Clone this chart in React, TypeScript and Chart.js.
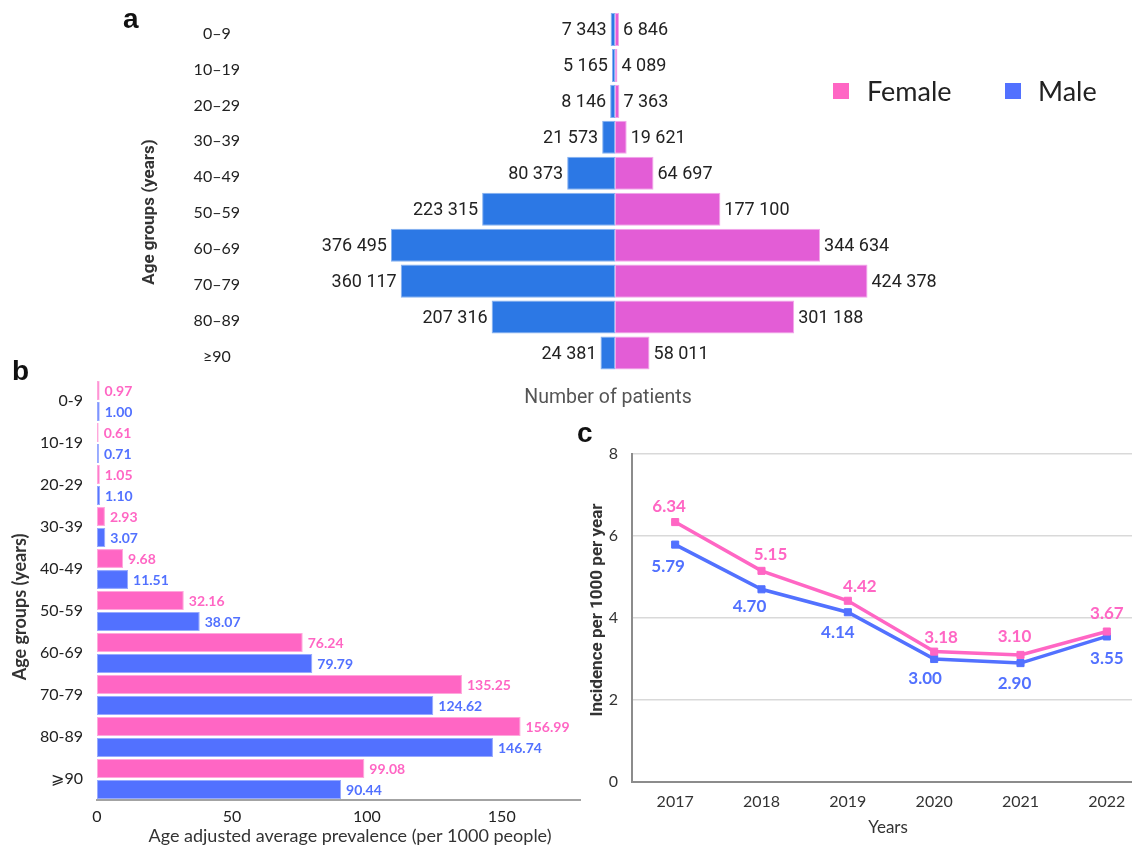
import React, { useEffect, useRef } from 'react';
import { Chart, registerables } from 'chart.js';

Chart.register(...registerables);

// ---------------- Data ----------------
// Panel a: number of patients by age group
const ageGroupsA = ['0–9', '10–19', '20–29', '30–39', '40–49', '50–59', '60–69', '70–79', '80–89', '≥90'];
const patientsMale = [7343, 5165, 8146, 21573, 80373, 223315, 376495, 360117, 207316, 24381];
const patientsFemale = [6846, 4089, 7363, 19621, 64697, 177100, 344634, 424378, 301188, 58011];

// Panel b: age adjusted average prevalence (per 1000 people)
const ageGroupsB = ['0-9', '10-19', '20-29', '30-39', '40-49', '50-59', '60-69', '70-79', '80-89', '⩾90'];
const prevalenceFemale = [0.97, 0.61, 1.05, 2.93, 9.68, 32.16, 76.24, 135.25, 156.99, 99.08];
const prevalenceMale = [1.0, 0.71, 1.1, 3.07, 11.51, 38.07, 79.79, 124.62, 146.74, 90.44];
const prevalenceTicks = [0, 50, 100, 150];

// Panel c: incidence per 1000 per year
const years = ['2017', '2018', '2019', '2020', '2021', '2022'];
const incidenceFemale = [6.34, 5.15, 4.42, 3.18, 3.1, 3.67];
const incidenceMale = [5.79, 4.7, 4.14, 3.0, 2.9, 3.55];

// ---------------- Styles ----------------
const PINK = '#FF66C4';
const BLUE = '#5271FF';
const A_PINK = '#E35DD6';
const A_BLUE = '#2C78E5';

// label nudges (style only) for panel c
const femaleLabelDx = [-6, 9, 12, 7, -6, 0];
const femaleLabelDy = [-16, -16, -14, -14, -18, -18];
const maleLabelDx = [-7, -12, -10, -9, -6, 0];
const maleLabelDy = [22, 17, 20, 20, 20, 22];

const fmtThousands = (v: number) => String(v).replace(/\B(?=(\d{3})+(?!\d))/g, ' ');

type TextItem = {
  text: string;
  x: number;
  y: number;
  font: string;
  color: string;
  align?: CanvasTextAlign;
  baseline?: CanvasTextBaseline;
  rotate?: number;
};
type RectItem = { x: number; y: number; w: number; h: number; color: string };

function decorPlugin(texts: TextItem[], rects: RectItem[] = []) {
  return {
    id: 'decor',
    afterDraw(chart: any) {
      const ctx = chart.ctx;
      ctx.save();
      rects.forEach((r) => {
        ctx.fillStyle = r.color;
        ctx.fillRect(r.x, r.y, r.w, r.h);
      });
      texts.forEach((t) => {
        ctx.save();
        ctx.translate(t.x, t.y);
        if (t.rotate) ctx.rotate(t.rotate);
        ctx.font = t.font;
        ctx.fillStyle = t.color;
        ctx.textAlign = t.align || 'center';
        ctx.textBaseline = t.baseline || 'middle';
        ctx.fillText(t.text, 0, 0);
        ctx.restore();
      });
      ctx.restore();
    },
  };
}

function pyramidLabelPlugin() {
  return {
    id: 'pyrLabels',
    afterDatasetsDraw(chart: any) {
      const ctx = chart.ctx;
      ctx.save();
      ctx.font = '18px Roboto';
      ctx.fillStyle = '#222';
      ctx.textBaseline = 'middle';
      chart.data.datasets.forEach((ds: any, di: number) => {
        const meta = chart.getDatasetMeta(di);
        meta.data.forEach((el: any, i: number) => {
          const v = Math.abs(ds.data[i]);
          const isLeft = el.x < el.base;
          ctx.textAlign = isLeft ? 'right' : 'left';
          ctx.fillText(fmtThousands(v), isLeft ? el.x - 4 : el.x + 4, el.y + 1);
        });
      });
      ctx.restore();
    },
  };
}

function barValueLabelPlugin() {
  return {
    id: 'barValues',
    afterDatasetsDraw(chart: any) {
      const ctx = chart.ctx;
      ctx.save();
      ctx.font = 'bold 14px Lato';
      ctx.textBaseline = 'middle';
      ctx.textAlign = 'left';
      chart.data.datasets.forEach((ds: any, di: number) => {
        const meta = chart.getDatasetMeta(di);
        ctx.fillStyle = ds.backgroundColor;
        meta.data.forEach((el: any, i: number) => {
          ctx.fillText((ds.data[i] as number).toFixed(2), el.x + 5, el.y + 1);
        });
      });
      ctx.restore();
    },
  };
}

function lineValueLabelPlugin() {
  return {
    id: 'lineValues',
    afterDatasetsDraw(chart: any) {
      const ctx = chart.ctx;
      ctx.save();
      ctx.font = 'bold 17px Lato';
      ctx.textBaseline = 'middle';
      ctx.textAlign = 'center';
      chart.data.datasets.forEach((ds: any, di: number) => {
        const meta = chart.getDatasetMeta(di);
        ctx.fillStyle = ds.borderColor;
        const dx = di === 0 ? femaleLabelDx : maleLabelDx;
        const dy = di === 0 ? femaleLabelDy : maleLabelDy;
        meta.data.forEach((el: any, i: number) => {
          ctx.fillText((ds.data[i] as number).toFixed(2), el.x + dx[i], el.y + dy[i]);
        });
      });
      ctx.restore();
    },
  };
}

export default function App() {
  const aRef = useRef<HTMLCanvasElement | null>(null);
  const bRef = useRef<HTMLCanvasElement | null>(null);
  const cRef = useRef<HTMLCanvasElement | null>(null);

  useEffect(() => {
    const charts: Chart[] = [];

    // ---------- Panel a ----------
    if (aRef.current) {
      charts.push(
        new Chart(aRef.current, {
          type: 'bar',
          data: {
            labels: ageGroupsA,
            datasets: [
              {
                label: 'Male',
                data: patientsMale.map((v) => -v),
                backgroundColor: A_BLUE,
                borderColor: '#86B2F0',
                borderWidth: 1,
                borderSkipped: false,
                barPercentage: 0.92,
                categoryPercentage: 1,
              },
              {
                label: 'Female',
                data: patientsFemale,
                backgroundColor: A_PINK,
                borderColor: '#F2A6EA',
                borderWidth: 1,
                borderSkipped: false,
                barPercentage: 0.92,
                categoryPercentage: 1,
              },
            ],
          },
          options: {
            indexAxis: 'y',
            responsive: false,
            animation: false,
            devicePixelRatio: 1,
            layout: { padding: { top: 11.5, bottom: 39, left: 0, right: 160 } },
            plugins: { legend: { display: false }, tooltip: { enabled: false } },
            scales: {
              x: { stacked: true, display: false, min: -600000, max: 600000 },
              y: {
                stacked: true,
                grid: { display: false, drawTicks: true, tickLength: 18 },
                border: { display: false },
                ticks: {
                  padding: 0,
                  crossAlign: 'center',
                  labelOffset: 4,
                  font: { family: 'Lato', size: 16 },
                  color: '#222',
                },
                afterFit: (s: any) => {
                  s.width = 258;
                },
              },
            },
          } as any,
          plugins: [
            pyramidLabelPlugin(),
            decorPlugin(
              [
                { text: 'a', x: 123, y: 28, font: 'bold 28px "Liberation Sans"', color: '#111', align: 'left', baseline: 'alphabetic' },
                { text: 'Age groups (years)', x: 150, y: 212, font: 'bold 17px Roboto', color: '#333', rotate: -Math.PI / 2 },
                { text: 'Number of patients', x: 608, y: 398, font: '19.5px Roboto', color: '#555' },
                { text: 'Female', x: 867, y: 92, font: '27px Lato', color: '#222', align: 'left' },
                { text: 'Male', x: 1038, y: 92, font: '27px Lato', color: '#222', align: 'left' },
              ],
              [
                { x: 833, y: 83, w: 16, h: 16, color: PINK },
                { x: 1005, y: 83, w: 16, h: 16, color: BLUE },
              ]
            ),
          ],
        })
      );
    }

    // ---------- Panel b ----------
    if (bRef.current) {
      charts.push(
        new Chart(bRef.current, {
          type: 'bar',
          data: {
            labels: ageGroupsB,
            datasets: [
              {
                label: 'Female',
                data: prevalenceFemale,
                backgroundColor: PINK,
                borderColor: '#FFA8DC',
                borderWidth: 1,
                borderSkipped: false,
                barPercentage: 0.9,
                categoryPercentage: 1,
              },
              {
                label: 'Male',
                data: prevalenceMale,
                backgroundColor: BLUE,
                borderColor: '#98AAFF',
                borderWidth: 1,
                borderSkipped: false,
                barPercentage: 0.9,
                categoryPercentage: 1,
              },
            ],
          },
          options: {
            indexAxis: 'y',
            responsive: false,
            animation: false,
            devicePixelRatio: 1,
            layout: { padding: { top: 30, bottom: 0, left: 0, right: 10 } },
            plugins: { legend: { display: false }, tooltip: { enabled: false } },
            scales: {
              x: {
                min: 0,
                max: 179,
                grid: { display: false, drawTicks: false },
                border: { display: true, color: '#a3a3a3', width: 2 },
                ticks: {
                  stepSize: 50,
                  padding: 7,
                  font: { family: 'Lato', size: 16 },
                  color: '#222',
                  autoSkip: false,
                  maxRotation: 0,
                  callback: (v: any) => (prevalenceTicks.includes(Number(v)) ? String(v) : ''),
                },
                afterFit: (s: any) => {
                  s.height = 50;
                },
              },
              y: {
                grid: { display: false, drawTicks: true, tickLength: 14 },
                border: { display: false },
                ticks: { padding: 0, font: { family: 'Lato', size: 16 }, color: '#222' },
                afterFit: (s: any) => {
                  s.width = 97;
                },
              },
            },
          } as any,
          plugins: [
            barValueLabelPlugin(),
            decorPlugin([
              { text: 'b', x: 12, y: 30, font: 'bold 28px "Liberation Sans"', color: '#111', align: 'left', baseline: 'alphabetic' },
              { text: 'Age groups (years)', x: 20, y: 257, font: 'bold 18px Lato', color: '#333', rotate: -Math.PI / 2 },
              { text: 'Age adjusted average prevalence (per 1000 people)', x: 350, y: 486, font: '18px Lato', color: '#333' },
            ]),
          ],
        })
      );
    }

    // ---------- Panel c ----------
    if (cRef.current) {
      charts.push(
        new Chart(cRef.current, {
          type: 'line',
          data: {
            labels: years,
            datasets: [
              {
                label: 'Female',
                data: incidenceFemale,
                borderColor: PINK,
                backgroundColor: PINK,
                borderWidth: 3.5,
                pointStyle: 'rect',
                pointRadius: 5,
                pointBorderWidth: 1,
                pointBackgroundColor: PINK,
                pointBorderColor: PINK,
                tension: 0,
              },
              {
                label: 'Male',
                data: incidenceMale,
                borderColor: BLUE,
                backgroundColor: BLUE,
                borderWidth: 3.5,
                pointStyle: 'rect',
                pointRadius: 5,
                pointBorderWidth: 1,
                pointBackgroundColor: BLUE,
                pointBorderColor: BLUE,
                tension: 0,
              },
            ],
          },
          options: {
            responsive: false,
            animation: false,
            devicePixelRatio: 1,
            layout: { padding: { top: 39, bottom: 0, left: 0, right: 20 } },
            plugins: { legend: { display: false }, tooltip: { enabled: false } },
            scales: {
              x: {
                offset: true,
                grid: { display: false, drawTicks: false },
                border: { display: true, color: '#8c8c8c', width: 2 },
                ticks: { padding: 10, font: { family: 'Lato', size: 16 }, color: '#333', maxRotation: 0 },
                afterFit: (s: any) => {
                  s.height = 68;
                },
              },
              y: {
                min: 0,
                max: 8,
                grid: { color: '#d9d9d9', lineWidth: 1.5, drawTicks: false },
                border: { display: true, color: '#8c8c8c', width: 2 },
                ticks: { stepSize: 2, padding: 14, font: { family: 'Lato', size: 16 }, color: '#333' },
                afterFit: (s: any) => {
                  s.width = 62;
                },
              },
            },
          } as any,
          plugins: [
            lineValueLabelPlugin(),
            decorPlugin([
              { text: 'c', x: 7, y: 27, font: 'bold 28px "Liberation Sans"', color: '#111', align: 'left', baseline: 'alphabetic' },
              { text: 'Incidence per 1000 per year', x: 28, y: 195, font: 'bold 17px Roboto', color: '#333', rotate: -Math.PI / 2 },
              { text: 'Years', x: 318, y: 413, font: '17px Lato', color: '#333' },
            ]),
          ],
        })
      );
    }

    return () => {
      charts.forEach((c) => c.destroy());
    };
  }, []);

  return (
    <div
      style={{
        position: 'fixed',
        left: 0,
        top: 0,
        width: 1132,
        height: 850,
        overflow: 'hidden',
        background: '#fff',
      }}
    >
      <canvas ref={aRef} width={1132} height={410} style={{ position: 'absolute', left: 0, top: 0 }} />
      <canvas ref={bRef} width={590} height={500} style={{ position: 'absolute', left: 0, top: 350 }} />
      <canvas ref={cRef} width={600} height={435} style={{ position: 'absolute', left: 570, top: 415 }} />
    </div>
  );
}
